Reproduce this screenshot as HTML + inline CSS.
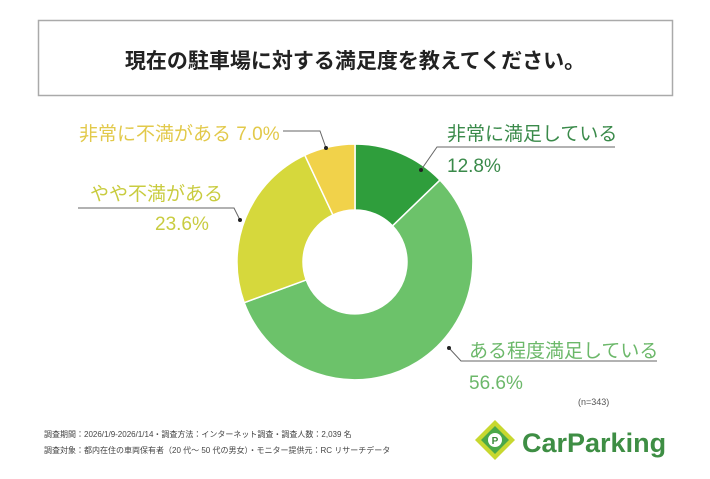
<!DOCTYPE html>
<html><head><meta charset="utf-8"><style>
body{margin:0;width:710px;height:474px;background:#fff;overflow:hidden;font-family:"Liberation Sans","Noto Sans CJK JP",sans-serif}
</style></head><body>
<svg width="710" height="474" xmlns="http://www.w3.org/2000/svg" style="font-family:'Liberation Sans','Noto Sans CJK JP',sans-serif">
<rect x="38.5" y="20.5" width="634" height="75" fill="#fff" stroke="#aaa" stroke-width="1.5"/>
<text x="355" y="68" text-anchor="middle" font-size="21" font-weight="bold" fill="#222">現在の駐車場に対する満足度を教えてください。</text>
<g stroke="#fff" stroke-width="1.5">
<path d="M355,144 A118,118 0 0 1 440,180.1 L392.5,225.9 A52,52 0 0 0 355,210 Z" fill="#2f9e3c"/>
<path d="M440,180.1 A118,118 0 1 1 244.2,302.7 L306.2,279.9 A52,52 0 1 0 392.5,225.9 Z" fill="#6cc26a"/>
<path d="M244.2,302.7 A118,118 0 0 1 304.8,155.2 L332.9,214.9 A52,52 0 0 0 306.2,279.9 Z" fill="#d6d83c"/>
<path d="M304.8,155.2 A118,118 0 0 1 355,144 L355,210 A52,52 0 0 0 332.9,214.9 Z" fill="#f1d24a"/>
</g>
<g stroke="#666" stroke-width="1" fill="none">
<polyline points="421,170 437,147 615,147"/>
<polyline points="449,348 461,361 657,361"/>
<polyline points="283,131 320,131 326,148"/>
<polyline points="78,208 234,208 240,220"/>
</g>
<g fill="#222"><circle cx="421" cy="170" r="2"/><circle cx="449" cy="348" r="2"/><circle cx="326" cy="148" r="2"/><circle cx="240" cy="220" r="2"/></g>
<text x="447" y="140" font-size="19" fill="#3a8a4a">非常に満足している</text>
<text x="447" y="172" font-size="19" fill="#3a8a4a">12.8%</text>
<text x="469" y="357" font-size="19" fill="#6cb86a">ある程度満足している</text>
<text x="469" y="389" font-size="19" fill="#6cb86a">56.6%</text>
<text x="79" y="140" font-size="19" fill="#e2c94a">非常に不満がある 7.0%</text>
<text x="90" y="200" font-size="19" fill="#c9cc40">やや不満がある</text>
<text x="155" y="230" font-size="19" fill="#c9cc40">23.6%</text>
<text x="578" y="405" font-size="9" fill="#555">(n=343)</text>
<text x="44" y="437" font-size="8" fill="#444">調査期間：2026/1/9-2026/1/14・調査方法：インターネット調査・調査人数：2,039 名</text>
<text x="44" y="453" font-size="8" fill="#444">調査対象：都内在住の車両保有者（20 代～ 50 代の男女）・モニター提供元：RC リサーチデータ</text>
<g transform="translate(495,440)">
<path d="M0,-20 L20,0 L0,20 L-20,0 Z" fill="#c8d830"/>
<path d="M0,-14 L14,0 L0,14 L-14,0 Z" fill="#4aa848"/>
<circle cx="0" cy="0" r="7" fill="#fff"/>
<text x="0" y="4" text-anchor="middle" font-size="10" font-weight="bold" fill="#3a8a3a">P</text>
</g>
<text x="522" y="452" font-size="27" font-weight="bold" fill="#3e8e44">CarParking</text>
</svg>
</body></html>
